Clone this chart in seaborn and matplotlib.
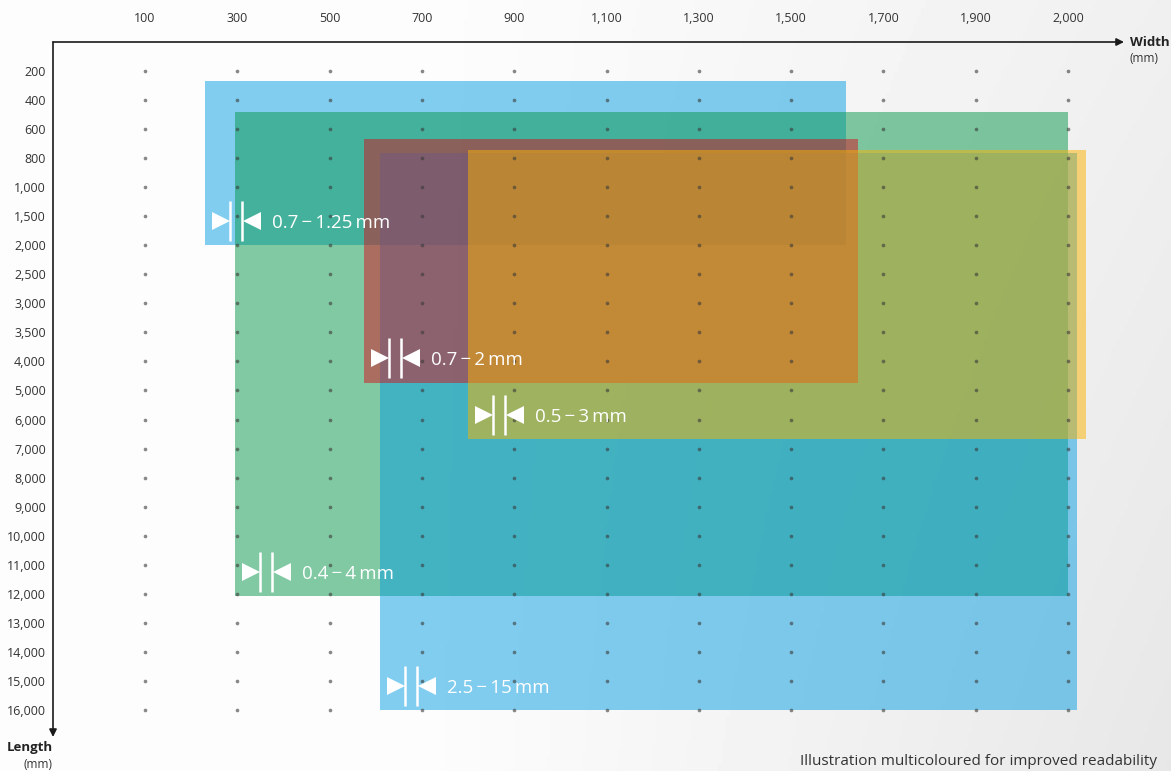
import numpy as np
import pandas as pd
import matplotlib.pyplot as plt
import matplotlib.transforms as mtransforms
from matplotlib.patches import Rectangle
import seaborn as sns

# grid categories (mm)
widths = [100, 300, 500, 700, 900, 1100, 1300, 1500, 1700, 1900, 2000]
lengths = [200, 400, 600, 800, 1000, 1500, 2000, 2500, 3000, 3500, 4000, 5000, 6000,
           7000, 8000, 9000, 10000, 11000, 12000, 13000, 14000, 15000, 16000]

# thickness ranges and their width / length windows (mm), drawn in this order
ranges = ['0.7\u2009\u2212\u20091.25\u2009mm', '0.4\u2009\u2212\u20094\u2009mm', '2.5\u2009\u2212\u200915\u2009mm',
          '0.7\u2009\u2212\u20092\u2009mm', '0.5\u2009\u2212\u20093\u2009mm']
w_min = [230, 295, 610, 575, 800]
w_max = [1620, 2000, 2010, 1645, 2020]
l_min = [270, 480, 763, 670, 744]
l_max = [2000, 12080, 16000, 4740, 6670]
colors = ['#069EE2', '#06964A', '#069EE2', '#D4121C', '#FAB200']


def to_pos(v, ticks):
    # map a mm value onto the category scale (linear between ticks)
    ticks = np.asarray(ticks, float)
    idx = np.arange(len(ticks))
    if v > ticks[-1]:
        return idx[-1] + (v - ticks[-1]) / (ticks[-1] - ticks[-2])
    return float(np.interp(v, ticks, idx))


sns.set_theme(style='white')
plt.rcParams['font.family'] = ['Open Sans', 'DejaVu Sans']

W, H = 1171, 771
fig = plt.figure(figsize=(W / 100, H / 100), dpi=100)

# soft grey background
bg = fig.add_axes([0, 0, 1, 1], zorder=-10)
gx, gy = np.meshgrid(np.linspace(0, 1, 300), np.linspace(0, 1, 200))
shade = 253 - 22 * np.clip(gx - 0.35, 0, 1) / 0.65 * (0.6 + 0.4 * gy)
bg.imshow(shade, cmap='gray', vmin=0, vmax=255, aspect='auto', extent=[0, 1, 0, 1])
bg.axis('off')

ax = fig.add_axes([53 / W, 0, (W - 53) / W, (H - 42) / H])
ax.patch.set_alpha(0)

gx_i, gy_i = np.meshgrid(np.arange(len(widths)), np.arange(len(lengths)))
dots = pd.DataFrame({'x': gx_i.ravel(), 'y': gy_i.ravel()})
sns.scatterplot(data=dots, x='x', y='y', s=7, color='#3a3a3a', alpha=0.6,
                linewidth=0, ax=ax, zorder=10)

for k in range(len(ranges)):
    x0, x1 = to_pos(w_min[k], widths), to_pos(w_max[k], widths)
    y0, y1 = to_pos(l_min[k], lengths), to_pos(l_max[k], lengths)
    ax.add_patch(Rectangle((x0, y0), x1 - x0, y1 - y0, facecolor=colors[k],
                           alpha=0.5, linewidth=0, zorder=2 + k))

ax.set_xlim(-0.997, 11.116)
ax.set_ylim(24.10, -0.998)

ax.set_xticks(range(len(widths)), [f'{v:,}' for v in widths])
ax.set_yticks(range(len(lengths)), [f'{v:,}' for v in lengths])
ax.xaxis.tick_top()
ax.tick_params(axis='x', length=0, pad=12, labelsize=9, labelcolor='#333333')
ax.tick_params(axis='y', length=0, pad=5, labelsize=9, labelcolor='#333333')
ax.set_xlabel('')
ax.set_ylabel('')
for s in ax.spines.values():
    s.set_visible(False)

# axis arrows
arr = dict(arrowstyle='-|>', color='#1a1a1a', lw=1.2, mutation_scale=11, shrinkA=0, shrinkB=0)
ax.annotate('', xy=((1124 - 53) / (W - 53), 1), xytext=(0, 1),
            xycoords='axes fraction', arrowprops=arr, annotation_clip=False)
ax.annotate('', xy=(0, (H - 737) / (H - 42)), xytext=(0, 1),
            xycoords='axes fraction', arrowprops=arr, annotation_clip=False)

fig.text(1130 / W, 1 - 42 / H, 'Width', fontsize=9.5, fontweight='bold', color='#222222', va='center', ha='left')
fig.text(1130 / W, 1 - 58 / H, '(mm)', fontsize=8.5, color='#333333', va='center', ha='left')
fig.text(53 / W, 1 - 748 / H, 'Length', fontsize=9.5, fontweight='bold', color='#222222', va='center', ha='right')
fig.text(53 / W, 1 - 764 / H, '(mm)', fontsize=8.5, color='#333333', va='center', ha='right')
fig.text(800 / W, 2 / H, 'Illustration multicoloured for improved readability',
         fontsize=11, color='#333333', va='bottom', ha='left')

# thickness labels: >| |< icon plus text, placed just above the lower-left corner
px = 0.72
for k in range(len(ranges)):
    x0 = to_pos(w_min[k], widths)
    y1 = to_pos(l_max[k], lengths)

    def off(dx):
        return mtransforms.offset_copy(ax.transData, fig=fig, x=dx * px, y=24.5 * px, units='points')

    ax.plot([x0], [y1], marker='>', ms=12.5, color='white', mew=0, transform=off(15.5), zorder=20, clip_on=False)
    ax.plot([x0], [y1], marker='<', ms=12.5, color='white', mew=0, transform=off(46.5), zorder=20, clip_on=False)
    ax.plot([x0], [y1], marker='|', ms=29, color='white', mew=1.8, transform=off(24.5), zorder=20, clip_on=False)
    ax.plot([x0], [y1], marker='|', ms=29, color='white', mew=1.8, transform=off(36.5), zorder=20, clip_on=False)
    ax.text(x0, y1, ranges[k], transform=off(67), fontsize=13.5, color='white',
            va='center_baseline', ha='left', zorder=21)

fig.savefig('out.png', dpi=100)
